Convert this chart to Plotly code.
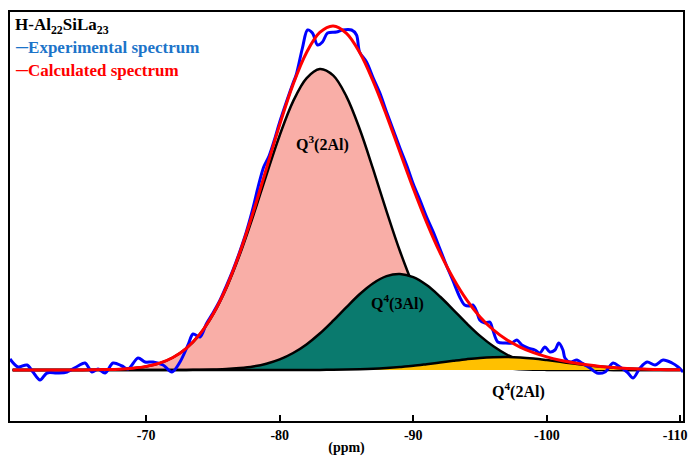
import plotly.graph_objects as go

# ---------------- data ----------------
grid_ppm = [-60, -61, -62, -63, -64, -65, -66, -67, -68, -69, -70, -71, -72, -73, -74, -75,
            -76, -77, -78, -79, -80, -81, -82, -83, -84, -85, -86, -87, -88, -89, -90, -91,
            -92, -93, -94, -95, -96, -97, -98, -99, -100, -101, -102, -103, -104, -105,
            -106, -107, -108, -109, -110]

q3_2al = [0, 0, 0, 0, 0, 0.1, 0.2, 0.4, 0.8, 1.8, 3.6, 6.8, 12.5, 21.6, 35.4, 55.3,
          81.8, 115.1, 153.7, 195.0, 234.8, 268.6, 291.7, 301.0, 294.6, 273.4, 240.5, 200.6,
          158.7, 119.0, 84.6, 57.0, 36.4, 22.1, 12.7, 6.9, 3.6, 1.7, 0.8, 0.3, 0.1, 0, 0, 0,
          0, 0, 0, 0, 0, 0, 0]

q4_3al = [0, 0, 0, 0, 0, 0, 0, 0, 0, 0, 0, 0, 0, 0.1, 0.2, 0.5,
          0.9, 1.9, 3.5, 6.3, 10.6, 17.0, 25.6, 36.5, 49.3, 62.9, 76.0, 86.8, 93.9, 96.0,
          92.8, 84.9, 73.5, 60.2, 46.6, 34.1, 23.7, 15.5, 9.6, 5.6, 3.1, 1.6, 0.8, 0.4, 0.2,
          0.1, 0, 0, 0, 0, 0]

q4_2al = [0, 0, 0, 0, 0, 0, 0, 0, 0, 0, 0, 0, 0, 0, 0, 0,
          0, 0, 0, 0, 0, 0, 0, 0.1, 0.2, 0.4, 0.7, 1.2, 2.0, 3.0, 4.2, 5.8, 7.5, 9.2, 10.8,
          12.1, 12.8, 13.0, 12.5, 11.4, 9.9, 8.2, 6.4, 4.8, 3.4, 2.3, 1.5, 0.9, 0.5, 0.3, 0.2]

calculated = [0, 0, 0, 0, 0, 0.1, 0.2, 0.4, 0.8, 1.8, 3.6, 6.8, 12.5, 21.7, 35.6, 55.8,
              82.7, 117.0, 157.2, 201.3, 245.4, 285.6, 317.3, 337.6, 344.1, 336.7, 317.2,
              288.6, 254.6, 218.0, 181.6, 147.7, 117.4, 91.5, 70.1, 53.1, 40.1, 30.2, 22.9,
              17.3, 13.1, 9.8, 7.2, 5.2, 3.6, 2.4, 1.5, 0.9, 0.5, 0.3, 0.2]

exp_ppm = [-59.8, -60.4, -61.07, -61.52, -62.05, -62.57, -63.32, -64.07, -64.89, -65.42,
           -65.94, -66.39, -66.92, -67.52, -68.19, -68.64, -69.39, -69.91, -70.51, -71.26,
           -71.93, -72.53, -73.13, -73.51, -74.03, -74.5, -75, -75.5, -76, -76.5, -77, -77.5,
           -78, -78.4, -78.8, -79.2, -79.6, -80, -80.5, -81, -81.23, -81.7, -82.08, -82.45,
           -82.83, -83.2, -83.58, -84.25, -84.7, -85.38, -85.75, -85.98, -86.5, -87, -87.5,
           -88, -88.5, -89, -89.5, -90, -90.5, -91, -91.5, -92, -92.5, -92.95, -93.48,
           -93.85, -94.23, -94.46, -94.76, -94.98, -95.36, -95.73, -95.96, -96.33, -96.86,
           -97.38, -97.76, -98.13, -98.58, -99.11, -99.48, -99.86, -100.23, -100.61, -100.9,
           -101.21, -101.36, -101.73, -102.26, -102.63, -103.23, -103.76, -104.36, -104.96,
           -105.48, -106.01, -106.46, -106.98, -107.51, -108.11, -108.71, -109.38, -109.83,
           -110.21]

experimental = [11, 3, 5, -2, -10, -3, -3, -2, 4, 7,
                -2, 1, -3, 7, 4, 1, 12, 8, 8, 5,
                -2, 8, 25, 36, 33, 46, 57, 69, 84, 100, 118, 138,
                162, 184, 203, 214, 230, 248, 268, 287, 295, 322, 340, 337,
                325, 328, 337, 338, 340, 340, 335, 318, 308, 292, 277,
                258, 240, 222, 205, 186, 170, 153, 138, 121, 104, 90, 73,
                65, 64, 65, 58, 50, 47, 48, 40, 28, 27,
                27, 30, 25, 22, 20, 17, 23, 18, 20, 27,
                20, 12, 8, 10, 7, 2, -3, -2, 7,
                3, -2, -8, 2, 8, 5, 10, 7, 3,
                -2]

tick_values = [-70, -80, -90, -100, -110]
tick_labels = ["-70", "-80", "-90", "-100", "-110"]

# ---------------- figure ----------------
SERIF = "Liberation Serif"
fig = go.Figure()

fig.add_trace(go.Scatter(x=grid_ppm, y=q3_2al, mode="lines", line=dict(color="black", width=2.5, shape="spline"),
                         fill="tozeroy", fillcolor="#F9AEA7", hoverinfo="skip"))
fig.add_trace(go.Scatter(x=grid_ppm, y=q4_3al, mode="lines", line=dict(color="black", width=2.5, shape="spline"),
                         fill="tozeroy", fillcolor="#0A7A6E", hoverinfo="skip"))
fig.add_trace(go.Scatter(x=grid_ppm, y=q4_2al, mode="lines", line=dict(color="black", width=2.5, shape="spline"),
                         fill="tozeroy", fillcolor="#FFC000", hoverinfo="skip"))
fig.add_trace(go.Scatter(x=exp_ppm, y=experimental, mode="lines",
                         line=dict(color="#0000FF", width=3, shape="spline", smoothing=0.9)))
fig.add_trace(go.Scatter(x=grid_ppm, y=calculated, mode="lines",
                         line=dict(color="#FF0000", width=3, shape="spline")))

fig.update_layout(
    width=690, height=456,
    margin=dict(l=10, r=7, t=12, b=35, autoexpand=False),
    paper_bgcolor="white", plot_bgcolor="white",
    showlegend=False,
    font=dict(family=SERIF, color="black"),
)

# the last label is padded on its right so that it stays inside the page, as in the reference
tick_text = ["<b>%s</b>" % t for t in tick_labels]
tick_text[-1] = tick_text[-1] + "\u00a0\u00a0\u00a0"

fig.update_xaxes(
    range=[-59.8, -110.2],
    tickvals=tick_values,
    ticktext=tick_text,
    tickfont=dict(family=SERIF, size=14, color="black"),
    ticklabeloverflow="allow",
    automargin=False,
    ticks="inside", ticklen=6, tickwidth=2, tickcolor="black",
    showline=True, linecolor="black", linewidth=2, mirror=True,
    showgrid=False, zeroline=False,
    title=dict(text="<b>(ppm)</b>", font=dict(family=SERIF, size=14, color="black"), standoff=6),
)
fig.update_yaxes(
    range=[-51, 358],
    automargin=False,
    showticklabels=False, ticks="",
    showline=True, linecolor="black", linewidth=2, mirror=True,
    showgrid=False, zeroline=False,
)

annots = [
    dict(x=0.005, y=0.966, text="<b>H-Al<sub>22</sub>SiLa<sub>23</sub></b>", color="black"),
    dict(x=0.005, y=0.913, text="<span style='font-weight:normal'>─</span><b>Experimental spectrum</b>", color="#1C74C9"),
    dict(x=0.005, y=0.856, text="<span style='font-weight:normal'>─</span><b>Calculated spectrum</b>", color="#FF0000"),
]
for a in annots:
    fig.add_annotation(xref="paper", yref="paper", x=a["x"], y=a["y"], text=a["text"],
                       showarrow=False, xanchor="left", yanchor="middle",
                       font=dict(family=SERIF, size=17, color=a["color"]))

labels = [
    (-83.2, 227, "<b>Q<sup>3</sup>(2Al)</b>"),
    (-88.8, 68, "<b>Q<sup>4</sup>(3Al)</b>"),
    (-97.9, -20, "<b>Q<sup>4</sup>(2Al)</b>"),
]
for x, y, t in labels:
    fig.add_annotation(x=x, y=y, text=t, showarrow=False, xanchor="center", yanchor="middle",
                       font=dict(family=SERIF, size=16, color="black"))

fig.write_html("out.html", config={"displayModeBar": False},
               post_script="document.body.style.margin='0';document.body.style.padding='0';")
